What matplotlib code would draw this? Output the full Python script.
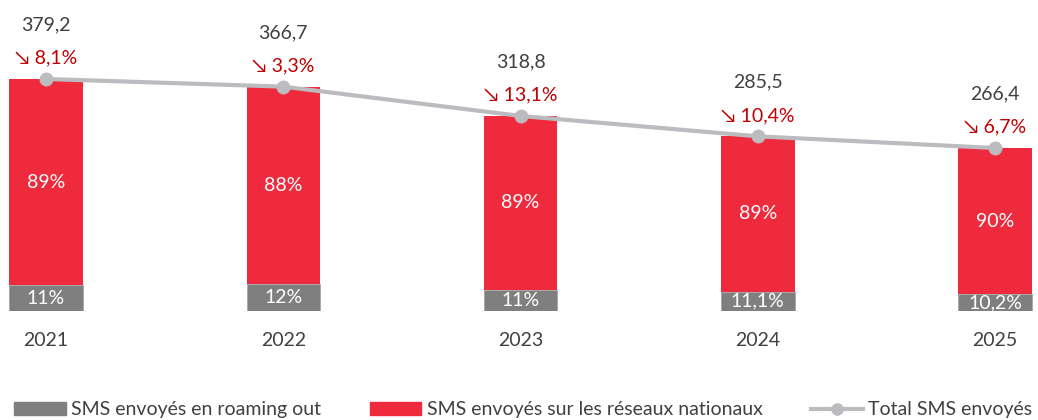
import numpy as np
import matplotlib.pyplot as plt
from matplotlib.patches import Patch
from matplotlib.lines import Line2D

years = ['2021', '2022', '2023', '2024', '2025']
totals = [379.2, 366.7, 318.8, 285.5, 266.4]
roaming_share = [11, 12, 11, 11.1, 10.2]
national_share = [89, 88, 89, 89, 90]
roaming_labels = ['11%', '12%', '11%', '11,1%', '10,2%']
national_labels = ['89%', '88%', '89%', '89%', '90%']
changes = ['8,1%', '3,3%', '13,1%', '10,4%', '6,7%']

red = '#EE2A3C'
grey = '#7F7F7F'
line_grey = '#BBBCC0'

plt.rcParams['font.family'] = ['Lato', 'DejaVu Sans']

fig = plt.figure(figsize=(10.38, 4.2), dpi=100)
ax = fig.add_axes([0, 0.2595, 1, 0.7405])

x = np.arange(len(years))
tot = np.array(totals)
roam = tot * np.array(roaming_share) / 100
nat = tot - roam
w = 0.31

ax.bar(x, roam, w, color=grey, edgecolor='#A6A6A6', linewidth=0.6, zorder=2)
ax.bar(x, nat, w, bottom=roam, color=red, zorder=2)
ax.plot(x, tot, color=line_grey, lw=3, marker='o', ms=9, zorder=3)

for i in range(len(years)):
    ax.text(x[i], roam[i] / 2, roaming_labels[i], ha='center', va='center',
            color='white', fontsize=14)
    ax.text(x[i], roam[i] + nat[i] / 2, national_labels[i], ha='center', va='center',
            color='white', fontsize=14)
    ax.annotate('↘ ' + changes[i], (x[i], tot[i]), xytext=(0, 15),
                textcoords='offset points', ha='center', va='center',
                color='#C00000', fontsize=14)
    ax.annotate(f'{totals[i]:.1f}'.replace('.', ','), (x[i], tot[i]), xytext=(0, 39),
                textcoords='offset points', ha='center', va='center',
                color='#404040', fontsize=14)
    ax.annotate(years[i], (x[i], 0), xytext=(0, -21), textcoords='offset points',
                ha='center', va='center', color='#404040', fontsize=14,
                annotation_clip=False)

ax.set_xlim(-0.194, 4.181)
ax.set_ylim(0, 508.3)
ax.axis('off')

handles = [Patch(color=grey), Patch(color=red),
           Line2D([], [], color=line_grey, lw=3, marker='o', ms=8)]
labels = ['SMS envoyés en roaming out', 'SMS envoyés sur les réseaux nationaux',
          'Total SMS envoyés']
fig.legend(handles, labels, loc='center left', bbox_to_anchor=(-0.003, 0.024),
           ncol=3, frameon=False, fontsize=14, handlelength=2.63,
           handleheight=0.62, handletextpad=0.3, columnspacing=2.5,
           labelcolor='#404040')

fig.savefig('out.png', dpi=100)
